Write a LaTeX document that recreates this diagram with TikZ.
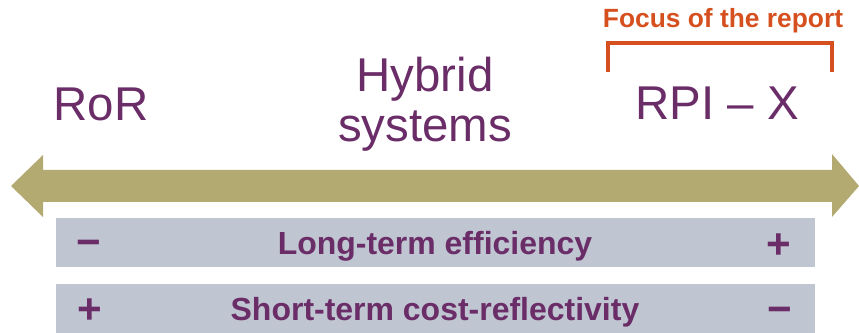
\documentclass[tikz,border=0pt]{standalone}
\usepackage{fontspec}
\setmainfont{Liberation Sans}
\usetikzlibrary{positioning}

\definecolor{plum}{HTML}{6A2D68}
\definecolor{khaki}{HTML}{B3AA72}
\definecolor{slate}{HTML}{BFC5D1}
\definecolor{rust}{HTML}{D5501E}

\begin{document}
\begin{tikzpicture}[
    x=0.02cm, y=-0.02cm,
    every node/.style={
        inner sep=0pt,
        text=plum
    },
    bigtext/.style={
        font=\fontsize{27}{30}\selectfont,
        anchor=base
    },
    bar/.style={
        fill=slate,
        minimum width=15.18cm,
        minimum height=0.98cm
    },
    bartext/.style={
        font=\fontsize{18.2}{20}\selectfont\bfseries,
        anchor=base
    },
    sign/.style={
        font=\fontsize{24}{26}\selectfont\bfseries,
        anchor=base
    },
    bracket/.style={
        draw=rust,
        line width=2.3pt
    }
]
\useasboundingbox (0,0) rectangle (859,333);

% Scale arrow
\fill[khaki] (11,186) -- (43,155) -- (43,170) -- (832,170) -- (832,154)
    -- (859,186) -- (832,217) -- (832,202) -- (43,202) -- (43,217) -- cycle;

% Labels above the arrow
\node[bigtext] (ror) at (101,121) {RoR};
\node[bigtext] (hybrid) at (425,92) {Hybrid};
\node[bigtext] (systems) at (425,142) {systems};
\node[bigtext] (rpi) at (717,120) {RPI – X};

% Focus bracket
\node[font=\fontsize{15}{17}\selectfont\bfseries, text=rust, anchor=base] (focus) at (723,28) {Focus of the report};
\draw[bracket] (608,72) -- (608,43) -- (832,43) -- (832,72);

% Bars
\node[bar] (lt) at (435.5,242.5) {};
\node[bar] (st) at (435.5,308.5) {};

\node[bartext] (ltlabel) at (435,255) {Long-term efficiency};
\node[bartext] (stlabel) at (435,321) {Short-term cost-reflectivity};

\node[sign] (ltminus) at (89,257) {−};
\node[sign] (ltplus) at (779,259) {+};
\node[sign] (stplus) at (90,324) {+};
\node[sign] (stminus) at (780,324) {−};

\end{tikzpicture}
\end{document}
